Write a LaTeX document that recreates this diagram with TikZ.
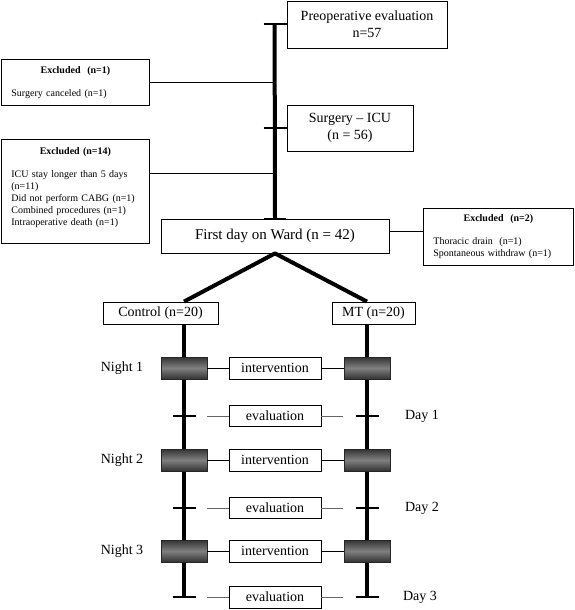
\documentclass[tikz,border=0pt]{standalone}
\usepackage{fontspec}
\setmainfont{Liberation Serif}
\usetikzlibrary{calc}

\tikzset{
  flowbox/.style={draw, fill=white, line width=0.8pt, inner sep=2pt, align=center, font=\fontsize{14}{17}\selectfont},
  exclbox/.style={draw, line width=0.8pt, anchor=north west, text width=128pt, inner xsep=10pt, align=left, font=\fontsize{10}{12}\selectfont},
  nightblock/.style={draw=black!85, line width=0.6pt, minimum width=46pt, minimum height=22pt, top color=black!80, bottom color=black!80, middle color=black!50},
  tickline/.style={line width=2pt},
  spineline/.style={line width=4pt},
  thinline/.style={line width=0.8pt},
  evalline/.style={line width=0.8pt, black!60},
  rowlabel/.style={font=\fontsize{14}{17}\selectfont}
}

\begin{document}
\begin{tikzpicture}[x=1pt,y=-1pt]
\useasboundingbox (0,0) rectangle (574,610);
% stages before the ward
\node[flowbox, minimum width=160pt, minimum height=47pt] (pre) at (367,24.5) {Preoperative evaluation\\n=57};
\node[flowbox, minimum width=126pt, minimum height=46pt] (icu) at (350,128) {Surgery -- ICU\\(n = 56)};
\node[flowbox, minimum width=228pt, minimum height=34pt, font=\fontsize{15}{18}\selectfont] (ward) at (275,236) {First day on Ward (n = 42)};
\coordinate (spinetop) at ([xshift=-12pt]pre.west);
\draw[spineline] (spinetop) -- (ward.north);
\draw[tickline] ([xshift=-23pt]pre.west) -- (pre.west);
\draw[tickline] ([xshift=-23pt]icu.west) -- (icu.west);
\draw[tickline] ([xshift=-11pt]ward.north) -- ([xshift=11pt]ward.north);

% excluded
\node[exclbox, minimum height=46pt] (exA) at (1,59) {\makebox[\linewidth]{\bfseries Excluded\ \ (n=1)}\\[11pt]Surgery canceled (n=1)};
\node[exclbox, minimum height=104pt] (exB) at (1,139) {\makebox[\linewidth]{\bfseries Excluded (n=14)}\\[11pt]ICU stay longer than 5 days\\(n=11)\\Did not perform CABG (n=1)\\Combined procedures (n=1)\\Intraoperative death (n=1)\\[-2pt]\mbox{}};
\node[exclbox, text width=130pt, minimum height=57pt] (exC) at (423,208) {\makebox[\linewidth]{\bfseries Excluded\ \ (n=2)}\\[11pt]Thoracic drain\ \ (n=1)\\Spontaneous withdraw (n=1)};
\coordinate (exBlink) at ([yshift=-34pt]exB.north east);
\draw[thinline] (exA.east) -- (exA.east -| spinetop);
\draw[thinline] (exBlink) -- (exBlink -| spinetop);
\draw[thinline] ([yshift=5pt]ward.east) -- ([yshift=5pt]ward.east -| exC.west);

% groups
\node[flowbox, minimum width=115pt, minimum height=22pt] (ctrl) at (160.5,313) {Control (n=20)};
\node[flowbox, minimum width=83pt, minimum height=22pt] (mt) at (373.5,313) {MT (n=20)};
\coordinate (lefttop) at ([xshift=23.5pt]ctrl.north);
\coordinate (righttop) at ([xshift=-6.5pt]mt.north);
\draw[spineline, line join=round] (lefttop) -- (ward.south) -- (righttop);
\coordinate (leftend) at (184,597);
\coordinate (rightend) at (367,597);
\draw[spineline, line width=3.5pt] ([xshift=23.5pt]ctrl.south) -- (leftend);
\draw[spineline, line width=3.5pt] ([xshift=-6.5pt]mt.south) -- (rightend);

% night 1 / day 1
\node[nightblock] (n1L) at (184,368) {};
\node[nightblock] (n1R) at (367,368) {};
\node[flowbox, minimum width=92pt, minimum height=22pt] (int1) at (275,368) {intervention};
\draw[thinline] (n1L) -- (int1);
\draw[thinline] (int1) -- (n1R);
\node[rowlabel] (night1) at (122,368) {Night 1};
\node[flowbox, minimum width=92pt, minimum height=21pt] (ev1) at (275,416) {evaluation};
\coordinate (d1L) at (n1L |- ev1);
\coordinate (d1R) at (n1R |- ev1);
\draw[tickline] ([xshift=-11.5pt]d1L) -- ([xshift=11.5pt]d1L);
\draw[tickline] ([xshift=-11.5pt]d1R) -- ([xshift=11.5pt]d1R);
\draw[evalline] ([xshift=23pt]d1L) -- (ev1.west);
\draw[evalline] (ev1.east) -- ([xshift=-24pt]d1R);
\node[rowlabel] (day1) at (422,416) {Day 1};

% night 2 / day 2
\node[nightblock] (n2L) at (184,460) {};
\node[nightblock] (n2R) at (367,460) {};
\node[flowbox, minimum width=92pt, minimum height=22pt] (int2) at (275,460) {intervention};
\draw[thinline] (n2L) -- (int2);
\draw[thinline] (int2) -- (n2R);
\node[rowlabel] (night2) at (122,460) {Night 2};
\node[flowbox, minimum width=92pt, minimum height=21pt] (ev2) at (275,508) {evaluation};
\coordinate (d2L) at (n2L |- ev2);
\coordinate (d2R) at (n2R |- ev2);
\draw[tickline] ([xshift=-11.5pt]d2L) -- ([xshift=11.5pt]d2L);
\draw[tickline] ([xshift=-11.5pt]d2R) -- ([xshift=11.5pt]d2R);
\draw[evalline] ([xshift=23pt]d2L) -- (ev2.west);
\draw[evalline] (ev2.east) -- ([xshift=-24pt]d2R);
\node[rowlabel] (day2) at (422,508) {Day 2};

% night 3 / day 3
\node[nightblock] (n3L) at (184,551) {};
\node[nightblock] (n3R) at (367,551) {};
\node[flowbox, minimum width=92pt, minimum height=22pt] (int3) at (275,551) {intervention};
\draw[thinline] (n3L) -- (int3);
\draw[thinline] (int3) -- (n3R);
\node[rowlabel] (night3) at (122,551) {Night 3};
\node[flowbox, minimum width=92pt, minimum height=22pt] (ev3) at (275,597) {evaluation};
\draw[tickline] ([xshift=-11.5pt]leftend) -- ([xshift=11.5pt]leftend);
\draw[tickline] ([xshift=-11.5pt]rightend) -- ([xshift=11.5pt]rightend);
\draw[evalline] ([xshift=23pt]leftend) -- (ev3.west);
\draw[evalline] (ev3.east) -- ([xshift=-24pt]rightend);
\node[rowlabel] (day3) at (420,597) {Day 3};
\end{tikzpicture}
\end{document}
